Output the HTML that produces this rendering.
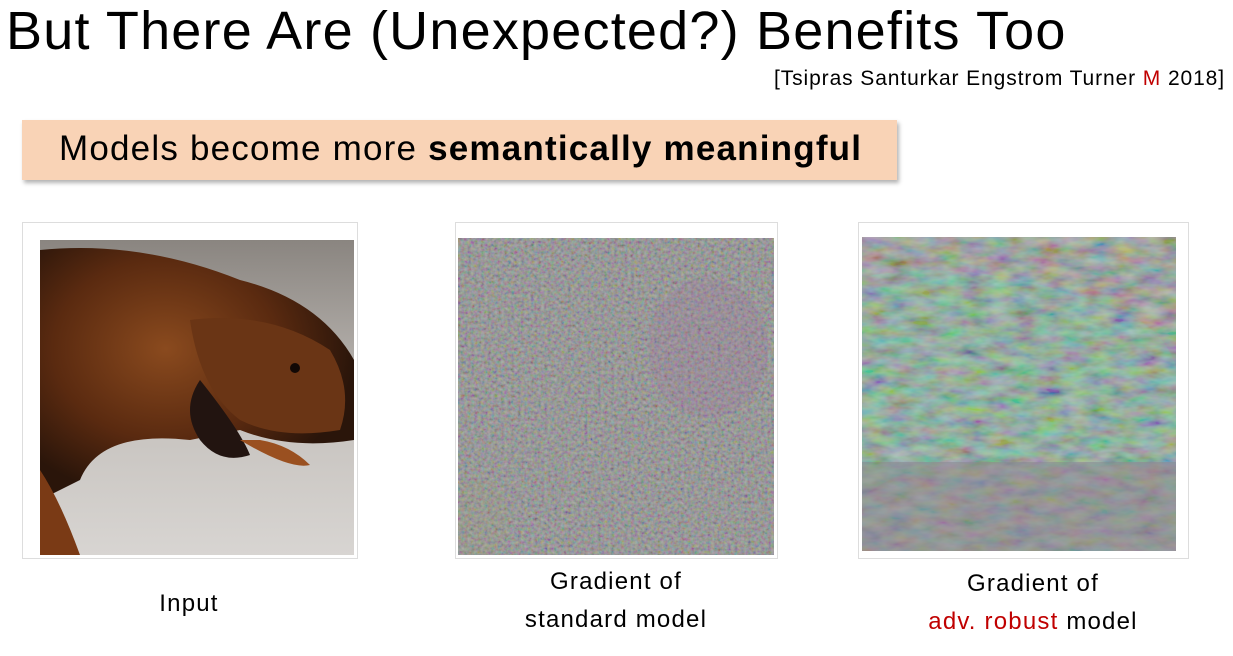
<!DOCTYPE html>
<html><head><meta charset="utf-8">
<style>
html,body{margin:0;padding:0;background:#fff;}
body{width:1233px;height:656px;position:relative;overflow:hidden;font-family:"Liberation Sans",sans-serif;color:#000;}
.abs{position:absolute;}
.title{left:6px;top:0px;font-size:54px;white-space:nowrap;letter-spacing:1.2px;}
.cite{right:8px;top:67px;font-size:21px;white-space:nowrap;letter-spacing:0.9px;}
.box{left:22px;top:120px;width:875px;height:60px;background:#f9d3b6;box-shadow:2px 3px 4px rgba(0,0,0,0.3);}
.box span{position:absolute;left:37px;top:9px;font-size:35px;white-space:nowrap;letter-spacing:1.2px;}
.frame{background:#fff;border:1px solid #ddd;}
.lbl{font-size:24px;text-align:center;white-space:nowrap;line-height:38px;letter-spacing:1.2px;}
</style></head><body>
<div class="abs title">But There Are (Unexpected?) Benefits Too</div>
<div class="abs cite">[Tsipras Santurkar Engstrom Turner <span style="color:#c00000">M</span> 2018]</div>
<div class="abs box"><span>Models become more <b>semantically meaningful</b></span></div>

<div class="abs frame" style="left:22px;top:222px;width:334px;height:335px"></div>
<svg class="abs" style="left:40px;top:240px" width="314" height="315">
<defs><linearGradient id="bg" x1="0" y1="0" x2="0" y2="1"><stop offset="0" stop-color="#8a8580"/><stop offset="0.6" stop-color="#c8c4c0"/><stop offset="1" stop-color="#d8d5d2"/></linearGradient>
<radialGradient id="fur" cx="0.4" cy="0.4" r="0.6"><stop offset="0" stop-color="#8a4a1e"/><stop offset="0.6" stop-color="#5a2a10"/><stop offset="1" stop-color="#2a150a"/></radialGradient></defs>
<rect width="314" height="315" fill="url(#bg)"/>
<path d="M0 10 Q100 0 200 40 Q280 60 314 120 L314 200 Q250 210 200 190 L150 200 Q60 190 40 240 L0 260 Z" fill="url(#fur)"/>
<path d="M150 80 Q230 70 290 110 Q314 150 300 190 Q240 200 200 180 Q160 150 150 80Z" fill="#6a3515"/>
<path d="M160 140 Q200 190 210 215 Q180 225 160 200 Q140 170 160 140Z" fill="#221410"/>
<path d="M200 200 Q250 230 270 225 Q250 205 220 200Z" fill="#9a5020"/>
<path d="M0 230 Q20 260 40 315 L0 315Z" fill="#7a3a15"/>
<circle cx="255" cy="128" r="5" fill="#110805"/>
</svg>

<div class="abs frame" style="left:455px;top:222px;width:321px;height:335px"></div>
<svg class="abs" style="left:458px;top:238px" width="316" height="317">
<filter id="n1"><feTurbulence type="fractalNoise" baseFrequency="0.3" numOctaves="2" seed="3"/><feColorMatrix type="matrix" values="1.6 0 0 0 -0.3  0 1.6 0 0 -0.3  0 0 1.6 0 -0.3  0 0 0 0 1"/></filter>
<rect width="316" height="317" fill="#8a8a8a"/>
<rect width="316" height="317" filter="url(#n1)" opacity="0.3"/>
<ellipse cx="250" cy="110" rx="60" ry="70" fill="#a070a0" opacity="0.2"/>
<ellipse cx="20" cy="280" rx="30" ry="40" fill="#a0a070" opacity="0.15"/>
</svg>

<div class="abs frame" style="left:858px;top:222px;width:329px;height:335px"></div>
<svg class="abs" style="left:862px;top:237px" width="314" height="314">
<filter id="n2"><feTurbulence type="fractalNoise" baseFrequency="0.04 0.1" numOctaves="3" seed="7"/><feColorMatrix type="matrix" values="1.5 0 0 0 -0.25  0 1.5 0 0 -0.2  0 0 1.5 0 -0.25  0 0 0 0 1"/></filter>
<rect width="314" height="314" fill="#8a8e8c"/>
<path d="M0 40 Q100 20 220 60 Q300 80 314 130 L314 220 Q200 240 100 220 Q40 230 0 260Z" fill="#70a890" opacity="0.7"/>
<rect width="314" height="314" filter="url(#n2)" opacity="0.4"/>
<rect y="225" width="314" height="89" fill="#8a8890" opacity="0.55"/>
</svg>

<div class="abs lbl" style="left:89px;top:585px;width:200px">Input</div>
<div class="abs lbl" style="left:466px;top:563px;width:300px">Gradient of<br>standard model</div>
<div class="abs lbl" style="left:883px;top:565px;width:300px">Gradient of<br><span style="color:#c00000">adv. robust</span> model</div>
</body></html>
